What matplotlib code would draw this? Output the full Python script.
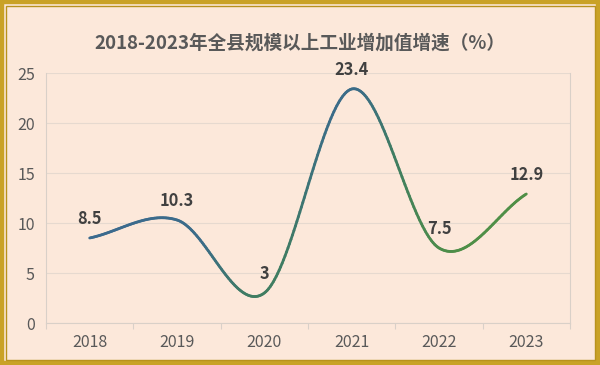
import numpy as np
import matplotlib
matplotlib.use("Agg")
import matplotlib.pyplot as plt
from matplotlib.collections import LineCollection
from matplotlib.colors import LinearSegmentedColormap
from matplotlib.patches import Rectangle

plt.rcParams['font.family'] = ['Noto Sans CJK SC', 'DejaVu Sans']

years = ['2018', '2019', '2020', '2021', '2022', '2023']
growth = [8.5, 10.3, 3, 23.4, 7.5, 12.9]
value_labels = ['8.5', '10.3', '3', '23.4', '7.5', '12.9']
title = '2018-2023年全县规模以上工业增加值增速（%）'
yticks = [0, 5, 10, 15, 20, 25]

BG = '#FCE8DA'
fig = plt.figure(figsize=(6.0, 3.65), dpi=100, facecolor=BG)
ax = fig.add_axes([46/600, 1 - 323/365, 524/600, 250/365])
ax.set_facecolor(BG)

x = np.arange(len(years), dtype=float)
y = np.array(growth, dtype=float)

# Catmull-Rom smoothing (like a smoothed office line)
def catmull(xs, ys, n=60):
    px = np.concatenate([[2*xs[0]-xs[1]], xs, [2*xs[-1]-xs[-2]]])
    py = np.concatenate([[2*ys[0]-ys[1]], ys, [2*ys[-1]-ys[-2]]])
    outx, outy = [], []
    for i in range(1, len(px)-2):
        p0, p1, p2, p3 = [np.array([px[j], py[j]]) for j in (i-1, i, i+1, i+2)]
        c1 = p1 + (p2 - p0) / 6
        c2 = p2 - (p3 - p1) / 6
        t = np.linspace(0, 1, n)[:, None]
        b = (1-t)**3*p1 + 3*(1-t)**2*t*c1 + 3*(1-t)*t**2*c2 + t**3*p2
        outx.extend(b[:, 0]); outy.extend(b[:, 1])
    return np.array(outx), np.array(outy)

sx, sy = catmull(x, y)

ax.set_xlim(-0.5, len(years) - 0.5)
ax.set_ylim(0, 25)

# gradient along a diagonal (top-left blue -> bottom-right green)
disp = ax.transData.transform(np.column_stack([sx, sy]))
d = disp[:, 0] - disp[:, 1]
t = (d - d.min()) / (d.max() - d.min())
cmap = LinearSegmentedColormap.from_list('g', [(0, '#3B6A8E'), (0.3, '#3B6C88'), (0.55, '#3F7C63'), (1, '#4F8F46')])
pts = np.column_stack([sx, sy]).reshape(-1, 1, 2)
segs = np.concatenate([pts[:-1], pts[1:]], axis=1)
lc = LineCollection(segs, colors=cmap((t[:-1] + t[1:]) / 2), linewidth=2.0, capstyle='round', zorder=3)
ax.add_collection(lc)

for xi, yi, lab in zip(x, y, value_labels):
    ax.annotate(lab, (xi, yi), xytext=(0, 14), textcoords='offset points',
                ha='center', va='center', fontsize=11.8, fontweight='bold', color='#404040', zorder=4)

# grid & axes
ax.set_yticks(yticks)
ax.yaxis.grid(True, color='#E6D9CF', linewidth=0.8)
ax.set_axisbelow(True)
ax.set_xticks(x)
ax.set_xticklabels(years)
ax.set_xticks(np.arange(-0.5, len(years)), minor=True)
ax.tick_params(axis='x', which='major', length=0, pad=8, labelsize=11.5, labelcolor='#595959')
ax.tick_params(axis='x', which='minor', length=4, color='#D9D0C8', width=0.8)
ax.tick_params(axis='y', length=0, pad=8, labelsize=11.5, labelcolor='#595959')
for s in ['left', 'right', 'bottom']:
    ax.spines[s].set_color('#D9D0C8')
    ax.spines[s].set_linewidth(0.8)
ax.spines['top'].set_visible(False)

fig.text(0.5, 1 - 43/365, title, ha='center', va='center', fontsize=13.4,
         fontweight='bold', color='#595959')

# golden double border
W, H = 600, 365
fig.patches.append(Rectangle((2/W, 2/H), 1 - 4/W, 1 - 4/H, transform=fig.transFigure,
                             fill=False, edgecolor='#C9A227', linewidth=3.2))
fig.patches.append(Rectangle((5.5/W, 5.5/H), 1 - 11/W, 1 - 11/H, transform=fig.transFigure,
                             fill=False, edgecolor='#B8921E', linewidth=1.0))

fig.savefig('out.png', dpi=100, facecolor=BG)
